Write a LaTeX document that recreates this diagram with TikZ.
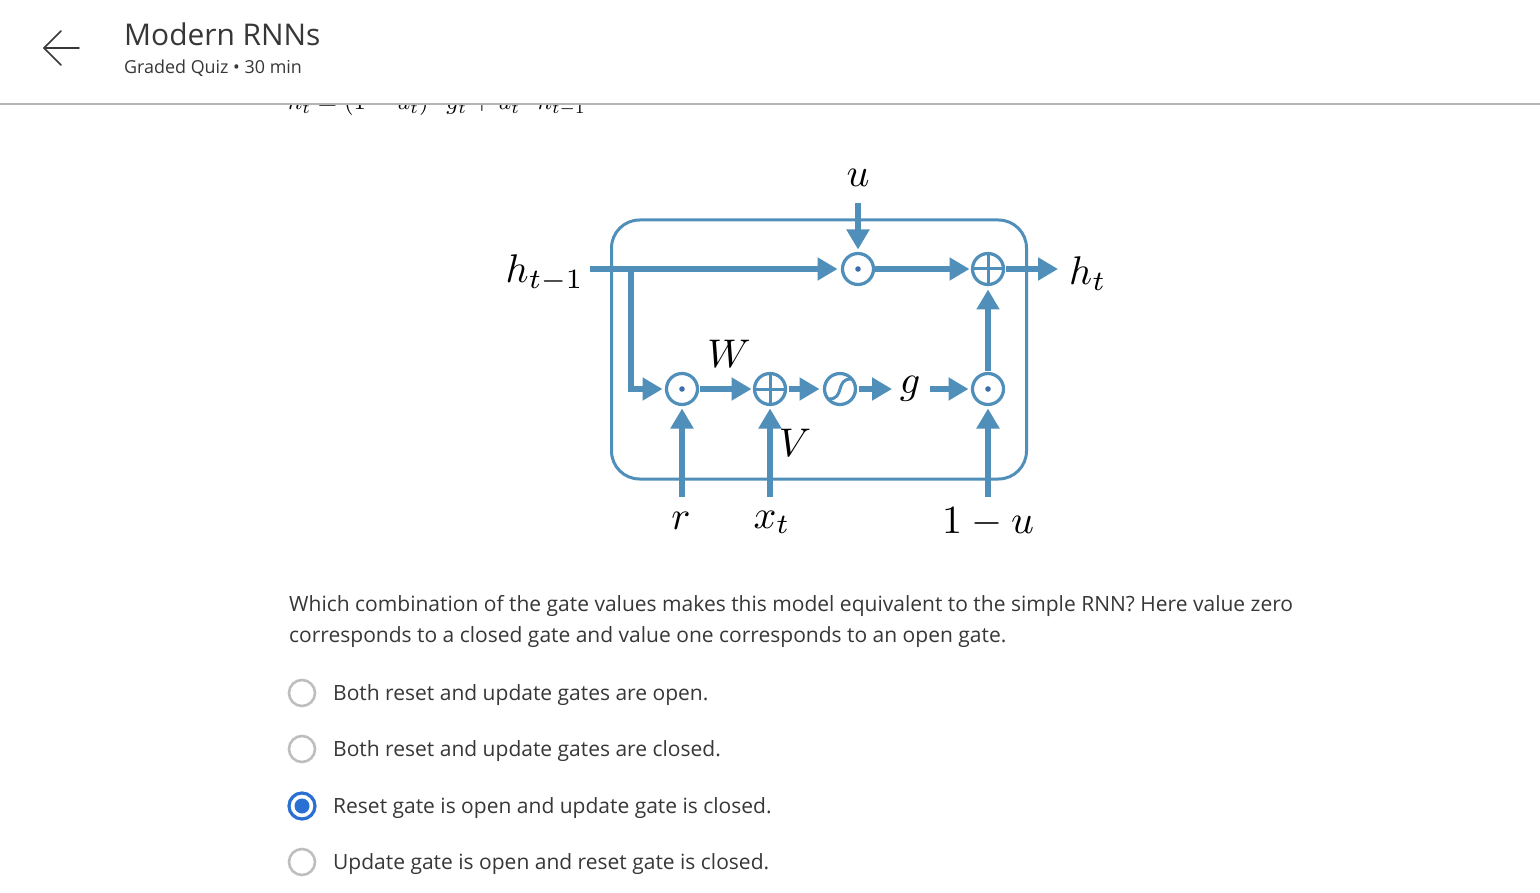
\documentclass[tikz,border=0pt]{standalone}
\usepackage{graphicx}
\usepackage{fontspec}
\setmainfont{Open Sans}
\usetikzlibrary{arrows.meta}
\definecolor{dblue}{RGB}{79,143,186}
\definecolor{dotblue}{RGB}{60,110,170}
\definecolor{selblue}{RGB}{42,112,210}
\definecolor{radiogray}{RGB}{190,190,190}
\definecolor{txt}{RGB}{55,55,55}
\definecolor{hdrline}{RGB}{180,180,180}
\newcommand{\mbig}[1]{\scalebox{4}{$#1$}}
\tikzset{
  conn/.style={draw=dblue, line width=6.5pt, -{Triangle[length=20pt,width=22pt]}},
  gate/.style={circle, draw=dblue, line width=3.2pt, minimum size=31pt, inner sep=0pt, outer sep=0pt},
  mlabel/.style={inner sep=0pt, anchor=base},
  radio/.style={circle, draw=radiogray, line width=2.6pt, minimum size=26pt, inner sep=0pt},
  opt/.style={anchor=base west, inner sep=0pt, text=txt, font=\fontsize{21}{24}\selectfont},
}
\begin{document}
\begin{tikzpicture}[x=1pt,y=-1pt]
\useasboundingbox (0,0) rectangle (1540,893);
\fill[white] (0,0) rectangle (1540,893);

% partially hidden formula
\node[anchor=base west, inner sep=0pt] (formula) at (288,110) {\scalebox{2.47}{$h_t=(1-u_t)\cdot g_t+u_t\cdot h_{t-1}$}};
% header
\fill[white] (0,0) rectangle (1540,103);
\draw[hdrline, line width=2pt] (0,104) -- (1540,104);
\coordinate (bk1) at (44,48);
\coordinate (bk2) at (79,48);
\draw[txt, line width=1.6pt, line cap=round, line join=round] (61,31) -- (bk1) -- (61,65);
\draw[txt, line width=1.6pt, line cap=round] (bk1) -- (bk2);
\node[anchor=base west, inner sep=0pt, text=txt, font=\fontsize{29.9}{33}\selectfont] (title) at (124,46) {Modern RNNs};
\node[anchor=base west, inner sep=0pt, text=txt, font=\fontsize{17.9}{21}\selectfont] (sub) at (124,74) {Graded Quiz • 30 min};

% box
\draw[dblue, line width=3pt, rounded corners=28pt] (611.5,220) rectangle (1026.5,479);

% gates
\node[gate] (m1) at (858,269) {};
\fill[dotblue] (m1.center) circle (2.8pt);
\node[gate] (p1) at (988,269) {};
\draw[dblue, line width=3pt] (p1.north) -- (p1.south) (p1.west) -- (p1.east);
\node[gate] (m2) at (682,389) {};
\fill[dotblue] (m2.center) circle (2.8pt);
\node[gate] (p2) at (770,389) {};
\draw[dblue, line width=3pt] (p2.north) -- (p2.south) (p2.west) -- (p2.east);
\node[gate] (sg) at (840,389) {};
\draw[dblue, line width=3pt] ([shift={(-11,10)}]sg.center) .. controls ([shift={(5,10)}]sg.center) and ([shift={(-5,-10)}]sg.center) .. ([shift={(11,-10)}]sg.center);
\node[gate] (m3) at (988,389) {};
\fill[dotblue] (m3.center) circle (2.8pt);

% labels
\node[mlabel] (u) at (858,187) {\mbig{u}};
\node[mlabel, anchor=base east] (hin) at (584,283) {\mbig{h_{t-1}}};
\node[mlabel, anchor=base west] (hout) at (1069,285) {\mbig{h_t}};
\node[mlabel] (W) at (729,367) {\mbig{W}};
\node[mlabel] (V) at (795,456) {\mbig{V}};
\node[mlabel] (g) at (910,393) {\mbig{g}};
\node[mlabel] (r) at (681,529) {\mbig{r}};
\node[mlabel] (x) at (772,528) {\mbig{x_t}};
\node[mlabel] (omu) at (988,533) {\mbig{1-u}};

% connectors
\coordinate (hstart) at (590,269);
\coordinate (br) at (631,269);
\coordinate (ustart) at (858,203);
\coordinate (hend) at (1058,269);
\coordinate (rs) at (682,497);
\coordinate (xs) at (770,497);
\coordinate (us) at (988,497);
\coordinate (gl) at (892,389);
\coordinate (gr) at (930,389);
\draw[conn, shorten >=5pt] (hstart) -- (m1);
\draw[conn, shorten >=4pt] (ustart) -- (m1);
\draw[conn, shorten >=3pt, shorten <=1pt] (m1) -- (p1);
\draw[conn, shorten <=2pt] (p1) -- (hend);
\draw[conn, shorten >=4pt] (br) |- (m2);
\draw[conn, shorten >=3pt, shorten <=2pt] (m2) -- (p2);
\draw[conn, shorten >=5pt, shorten <=3pt] (p2) -- (sg);
\draw[conn, shorten <=3pt] (sg) -- (gl);
\draw[conn, shorten >=4pt] (gr) -- (m3);
\draw[conn, shorten >=5pt, shorten <=2pt] (m3) -- (p1);
\draw[conn, shorten >=4pt] (rs) -- (m2);
\draw[conn, shorten >=4pt] (xs) -- (p2);
\draw[conn, shorten >=4pt] (us) -- (m3);

% question
\node[anchor=base west, inner sep=0pt, text=txt, font=\fontsize{21}{24}\selectfont] (q1) at (289,611) {Which combination of the gate values makes this model equivalent to the simple RNN? Here value zero};
\node[anchor=base west, inner sep=0pt, text=txt, font=\fontsize{21}{24}\selectfont] (q2) at (289,642) {corresponds to a closed gate and value one corresponds to an open gate.};

% options
\node[radio] (c1) at (302,693) {};
\node[radio] (c2) at (302,749) {};
\node[radio, draw=selblue, line width=3.2pt] (c3) at (302,806) {};
\fill[selblue] (c3.center) circle (7.5pt);
\node[radio] (c4) at (302,862) {};
\node[opt] (o1) at (333,700) {Both reset and update gates are open.};
\node[opt] (o2) at (333,756) {Both reset and update gates are closed.};
\node[opt] (o3) at (333,813) {Reset gate is open and update gate is closed.};
\node[opt] (o4) at (333,869) {Update gate is open and reset gate is closed.};
\end{tikzpicture}
\end{document}
